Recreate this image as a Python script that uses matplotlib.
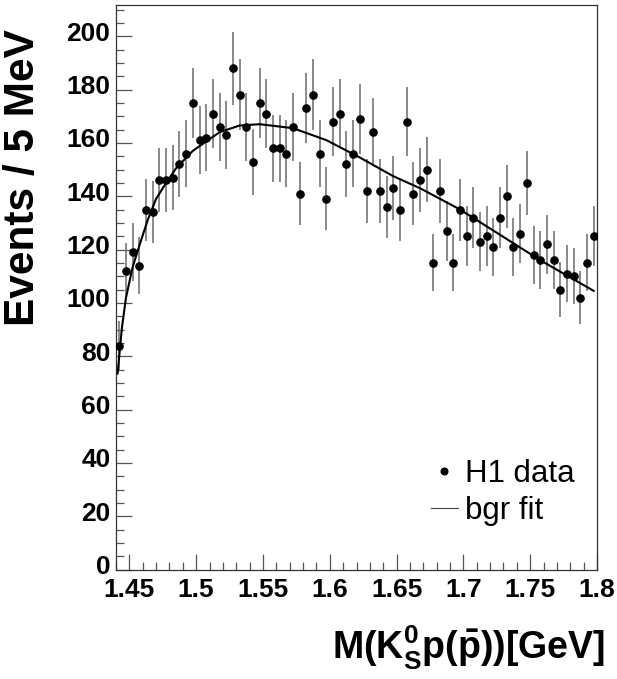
#!/usr/bin/env python3
"""H1 K0s p(pbar) invariant mass spectrum with background fit."""

import numpy as np
import matplotlib
matplotlib.use('Agg')
import matplotlib.pyplot as plt
from matplotlib.lines import Line2D
from matplotlib.ticker import MultipleLocator, FuncFormatter
from matplotlib.transforms import ScaledTranslation

plt.rcParams.update({
    'font.family': 'Liberation Sans',
    'mathtext.fontset': 'custom',
    'mathtext.rm': 'Liberation Sans:bold',
    'mathtext.bf': 'Liberation Sans:bold',
    'mathtext.it': 'Liberation Sans:bold',
})

# histogram binning (GeV)
bin_lo = 1.44
bin_width = 0.005

# events per 5 MeV bin
counts = [84, 112, 119, 114, 135, 134, 146, 146, 147, 152,
          156, 175, 161, 162, 171, 166, 163, 188, 178, 166,
          153, 175, 171, 158, 158, 156, 166, 141, 173, 178,
          156, 139, 168, 171, 152, 156, 169, 142, 164, 142,
          136, 143, 135, 168, 141, 146, 150, 115, 142, 127,
          115, 135, 125, 132, 123, 125, 121, 132, 140, 121,
          126, 145, 118, 116, 122, 116, 105, 111, 110, 102,
          115, 125]

# background fit curve, sampled from the figure
fit_mass = [1.4412, 1.4445, 1.4475, 1.4525, 1.4575, 1.4637, 1.4700, 1.4775,
            1.4850, 1.4975, 1.5175, 1.5325, 1.5475, 1.5725, 1.5975, 1.6225,
            1.6475, 1.6675, 1.6975, 1.7275, 1.7575, 1.7975]
fit_events = [73.5, 91.0, 102.0, 113.5, 121.5, 131.0, 139.0, 145.0,
              150.5, 157.0, 164.0, 166.5, 167.0, 165.5, 161.0, 154.5,
              147.5, 143.0, 135.0, 125.5, 116.0, 104.5]

counts = np.array(counts, dtype=float)
mass = bin_lo + bin_width * (np.arange(len(counts)) + 0.5)
errors = np.sqrt(counts)

fig = plt.figure(figsize=(6.17, 6.79), dpi=100)
ax = fig.add_axes([116/617, 1 - 569.5/679, 481/617, 564.5/679])

ax.errorbar(mass, counts, yerr=errors, fmt='none', ecolor='#6a6a6a',
            elinewidth=1.1, capsize=0, zorder=2)
ax.plot(mass, counts, 'o', color='black', markersize=5.2, zorder=3)
ax.plot(fit_mass, fit_events, color='black', linewidth=1.5, zorder=4)

ax.set_xlim(1.44, 1.8)
ax.set_ylim(0, 211.7)

ax.xaxis.set_major_locator(MultipleLocator(0.05))
ax.xaxis.set_minor_locator(MultipleLocator(0.01))
ax.yaxis.set_major_locator(MultipleLocator(20))
ax.yaxis.set_minor_locator(MultipleLocator(5))
ax.xaxis.set_major_formatter(FuncFormatter(lambda v, p: f'{v:g}'))
ax.yaxis.set_major_formatter(FuncFormatter(lambda v, p: f'{v:g}'))

ax.tick_params(which='both', direction='in', top=False, right=False,
               width=0.9, color='#555555')
ax.tick_params(which='major', length=11.5)
ax.tick_params(which='minor', length=5.8)
ax.tick_params(axis='x', pad=6, labelsize=19)
ax.tick_params(axis='y', pad=4, labelsize=19)
for lab in ax.get_xticklabels() + ax.get_yticklabels():
    lab.set_fontweight('bold')
# ROOT puts the y labels a few pixels above their ticks
lift = ScaledTranslation(0, 3.5 / 72, fig.dpi_scale_trans)
for lab in ax.get_yticklabels():
    lab.set_transform(lab.get_transform() + lift)
for sp in ax.spines.values():
    sp.set_linewidth(0.9)
    sp.set_color('#333333')

ax.set_ylabel('Events / 5 MeV', fontsize=30.5, fontweight='bold')
ax.yaxis.set_label_coords(-0.152, 0.6935)
ax.set_xlabel(r'$\mathbf{M(K^{0}_{S}p(\bar{p}))[GeV]}$', fontsize=27,
              ha='right')
ax.xaxis.set_label_coords(1.017, -0.097)

handles = [Line2D([], [], marker='o', ls='none', color='black', markersize=4.8),
           Line2D([], [], color='#444444', lw=0.8)]
ax.legend(handles, ['H1 data', 'bgr fit'], loc='upper left',
          bbox_to_anchor=(0.655, 0.195), frameon=False, fontsize=22.5,
          handlelength=0.85, handletextpad=0.25, labelspacing=0.2,
          borderpad=0, borderaxespad=0)

fig.savefig('out.png', dpi=100)
